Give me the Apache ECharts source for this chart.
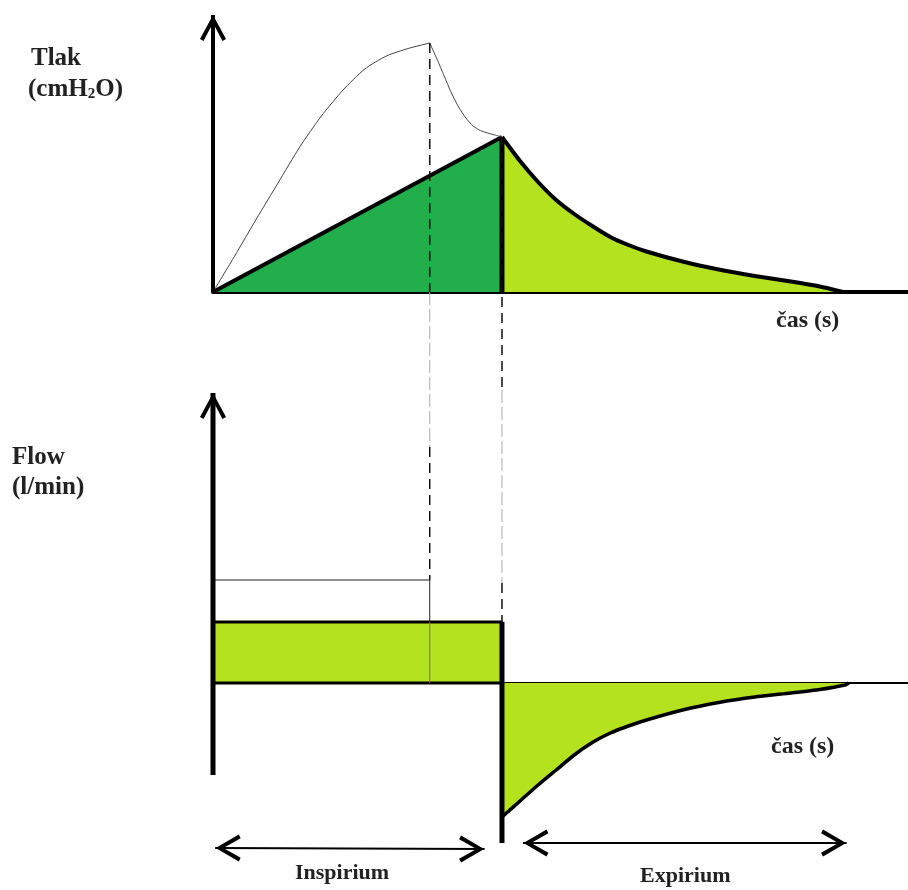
<!DOCTYPE html>
<html>
<head>
<meta charset="utf-8">
<script src="https://cdn.jsdelivr.net/npm/echarts@6/dist/echarts.min.js"></script>
<style>
  html, body { margin: 0; background: #fff; }
  #chart { width: 908px; height: 890px; }
</style>
</head>
<body>
<div id="chart"></div>
<script>
// pressure panel (t in s, p in cmH2O, schematic units)
var pressureInsp = [[0, 0], [4, 15.5]];
var pressureEdge = [[4, 0], [4, 15.5]];
var pressureExp = [[4, 15.5], [4.25, 13.1], [4.5, 11.0], [4.75, 9.2], [5, 7.8], [5.25, 6.6], [5.5, 5.5],
  [5.75, 4.7], [6, 4.05], [6.5, 3.05], [7, 2.25], [7.5, 1.6], [8, 1.05], [8.4, 0.55], [8.72, 0]];
var peakRise = [[0, 0], [0.3, 3.6], [0.6, 7.3], [0.9, 10.9], [1.2, 14.5], [1.5, 17.6], [1.8, 20.2],
  [2.1, 22.3], [2.4, 23.6], [2.7, 24.35], [3, 24.9]];
var peakFall = [[3, 24.9], [3.1, 23.3], [3.2, 21.6], [3.3, 19.9], [3.4, 18.5], [3.5, 17.4], [3.6, 16.6],
  [3.7, 16.15], [3.8, 15.9], [3.9, 15.7], [4, 15.5]];

// flow panel (l/min, schematic units)
var flowSet = [[0, 10.3], [3, 10.3], [3, 6.1]];
var flowSetInner = [[3, 6.1], [3, 0]];
var flowInsp = [[0, 0], [0, 6.1], [4, 6.1], [4, 0], [0, 0]];
var flowExp = [[4, -13.4], [4.25, -11.8], [4.5, -10.2], [4.75, -8.7], [5, -7.2], [5.25, -5.95], [5.5, -5.0],
  [5.75, -4.3], [6, -3.7], [6.5, -2.7], [7, -1.95], [7.5, -1.4], [8, -1.0], [8.4, -0.65], [8.75, -0.2], [8.8, 0]];
var flowEdge = [[4, 6.1], [4, -16]];

// axes and phase arrows
var pressureAxis = [[0, 0], [0, 27.7]];
var flowAxis = [[0, -9.2], [0, 29.0]];
var phaseNames = ['Inspirium', 'Expirium'];
var phaseArrows = [[[0.03, -16.5], [3.76, -16.6]], [[4.29, -16.0], [8.77, -16.0]]];

// dashed guides: time, top (pressure), grey part start/end [grid, value], bottom (flow)
var guideTimes = [3, 4];
var guideTop = [24.9, 15.5];
var guideFadeStart = [[0, 0], [1, 29.3]];
var guideFadeEnd = [[1, 23.6], [1, 10.0]];
var guideBottom = [10.3, 6.1];

var DARK_GREEN = '#23AE4C';
var LIGHT_GREEN = '#B4E21F';
var FONT = 'Liberation Serif';

var UP = 'path://M0,24 L13,0 L26,24 L22.5,26 L13,8 L3.5,26 Z';
var LEFT = 'path://M24,0 L0,13 L24,26 L26,22.5 L8,13 L26,3.5 Z';
var RIGHT = 'path://M2,0 L26,13 L2,26 L0,22.5 L18,13 L0,3.5 Z';

var chart = echarts.init(document.getElementById('chart'), null, { renderer: 'canvas' });

function plain(name, grid, data, width, color, extra) {
  var s = {
    name: name,
    type: 'line',
    xAxisIndex: grid,
    yAxisIndex: grid,
    data: data,
    symbol: 'none',
    silent: true,
    animation: false,
    clip: false,
    lineStyle: { width: width, color: color }
  };
  for (var k in extra) s[k] = extra[k];
  return s;
}

function arrow(name, grid, pts, startSym, endSym, width) {
  function tip(p, sym) {
    if (!sym) return { value: p, symbol: 'none' };
    var off = sym === UP ? [0, 13] : sym === LEFT ? [13, 0] : [-13, 0];
    var size = sym === UP ? [26, 26] : [25, 27];
    return { value: p, symbol: sym, symbolSize: size, symbolOffset: off };
  }
  return plain(name, grid, [tip(pts[0], startSym), tip(pts[1], endSym)], width, '#000', {
    showSymbol: true,
    itemStyle: { color: '#000', borderWidth: 0 }
  });
}

function label(text, left, top, size, rich) {
  return {
    text: text, left: left, top: top, padding: 0,
    textStyle: { fontFamily: FONT, fontWeight: 'bold', fontSize: size, color: '#222', rich: rich }
  };
}

var series = [
  plain('ramp', 0, pressureInsp, 4, '#000', { areaStyle: { color: DARK_GREEN, opacity: 1 } }),
  plain('decay', 0, pressureExp, 4, '#000', { smooth: 0.2, areaStyle: { color: LIGHT_GREEN, opacity: 1 } }),
  plain('edge', 0, pressureEdge, 5, '#000'),
  plain('peakRise', 0, peakRise, 1, '#444', { smooth: 0.2 }),
  plain('peakFall', 0, peakFall, 1, '#444', { smooth: 0.2 }),
  arrow('pAxis', 0, pressureAxis, null, UP, 4),

  plain('flowInsp', 1, flowInsp, 3, '#000', { areaStyle: { color: LIGHT_GREEN, opacity: 1 } }),
  plain('flowSet', 1, flowSet, 1, '#222'),
  plain('flowSetInner', 1, flowSetInner, 1, '#a85a6a'),
  plain('flowExp', 1, flowExp, 3.5, '#000', { smooth: 0.2, areaStyle: { color: LIGHT_GREEN, opacity: 1 } }),
  plain('flowEdge', 1, flowEdge, 5, '#000'),
  arrow('fAxis', 1, flowAxis, null, UP, 5)
];
phaseArrows.forEach(function (pts, i) {
  series.push(arrow(phaseNames[i], 1, pts, LEFT, RIGHT, 2));
});

chart.setOption({
  backgroundColor: '#fff',
  animation: false,
  title: [
    label('Tlak', 31, 46, 25),
    label('(cmH{sub|2}O)', 28, 77, 25, { sub: { fontFamily: FONT, fontWeight: 'bold', fontSize: 15, color: '#222', verticalAlign: 'bottom', padding: [9, 0, 0, 0] } }),
    label('Flow', 12, 445, 25),
    label('(l/min)', 12, 475, 25),
    label('čas (s)', 776, 309, 24),
    label('čas (s)', 771, 735, 24),
    label(phaseNames[0], 295, 862, 22),
    label(phaseNames[1], 640, 865, 22)
  ],
  grid: [
    { left: 213, right: 0, top: 15, height: 277 },
    { left: 213, right: 0, top: 393, height: 480 }
  ],
  xAxis: [0, 1].map(function (g) {
    return {
      type: 'value', gridIndex: g, min: 0, max: 9.62,
      axisLine: { onZero: true, lineStyle: { color: '#000', width: g === 0 ? 4 : 2 } },
      axisTick: { show: false }, axisLabel: { show: false }, splitLine: { show: false }
    };
  }),
  yAxis: [
    { type: 'value', gridIndex: 0, min: 0, max: 27.7, show: false },
    { type: 'value', gridIndex: 1, min: -19, max: 29, show: false }
  ],
  series: series
});

// dashed guides across both panels
function px(grid, t, v) {
  return chart.convertToPixel({ gridIndex: grid }, [t, v]);
}
var graphics = [];
function dash(a, b, color, width, pattern) {
  graphics.push({
    type: 'line', z: 100, silent: true,
    shape: { x1: a[0], y1: a[1], x2: b[0], y2: b[1] },
    style: { stroke: color, lineWidth: width, lineDash: pattern }
  });
}
guideTimes.forEach(function (t, i) {
  var top = px(0, t, guideTop[i]);
  var f1 = px(guideFadeStart[i][0], t, guideFadeStart[i][1]);
  var f2 = px(guideFadeEnd[i][0], t, guideFadeEnd[i][1]);
  var bottom = px(1, t, guideBottom[i]);
  dash(top, f1, '#111', 1.5, [10, 6]);
  dash(f1, f2, '#aaa', 1, [13, 4]);
  dash(f2, bottom, '#111', 1.5, [10, 6]);
});
chart.setOption({ graphic: graphics });
</script>
</body>
</html>
